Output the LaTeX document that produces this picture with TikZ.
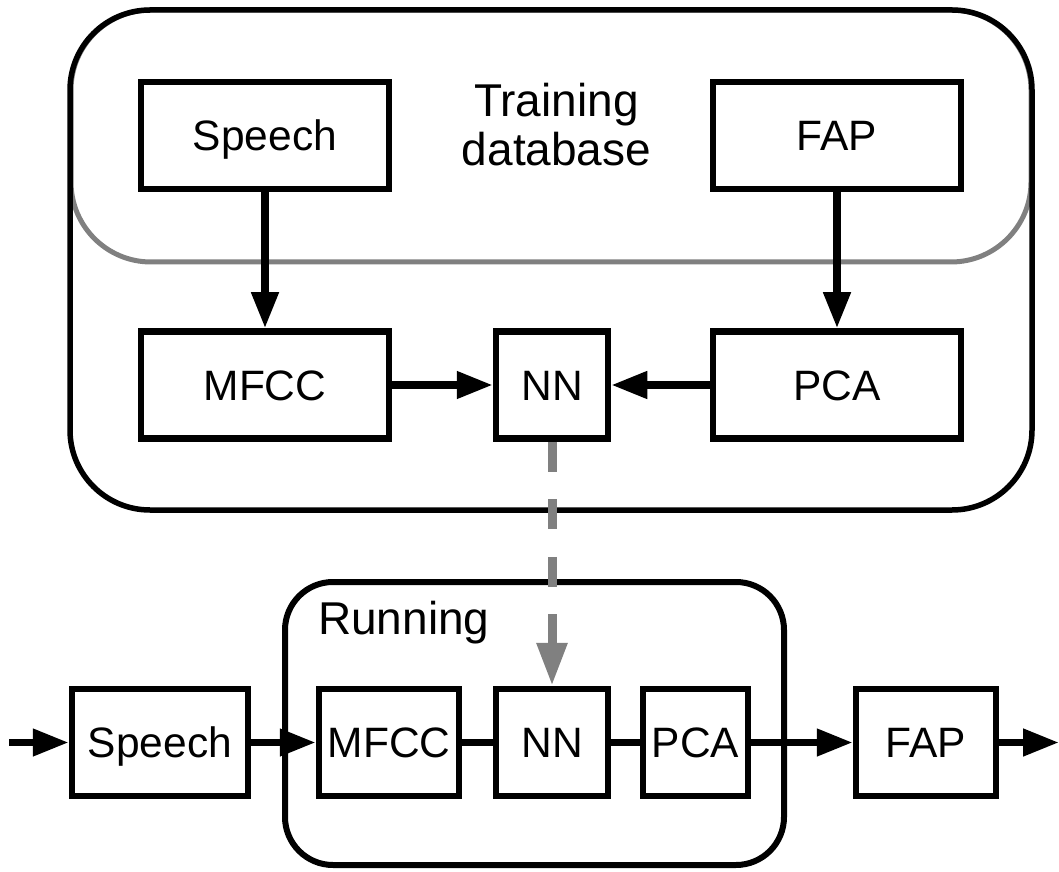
\documentclass[tikz,border=0pt]{standalone}
\usepackage{fontspec}
\setmainfont{Liberation Sans}
\usepackage{tikz}
\usetikzlibrary{arrows.meta}

\begin{document}
\begin{tikzpicture}[x=1pt, y=1pt,
    block/.style={draw, rectangle, line width=6.5pt, minimum height=107pt, inner sep=0pt, text height=30.5pt, text depth=0pt, font=\fontsize{42.5}{48}\selectfont},
    flow/.style={line width=7.5pt, -{Triangle[length=36pt, width=26pt]}},
    link/.style={line width=7.5pt},
    caption/.style={inner sep=0pt, font=\fontsize{46}{49}\selectfont}]
    \useasboundingbox (0,0) rectangle (1059,871);

    % Training database frame
    \draw[gray, line width=5pt, rounded corners=80pt] (71,861) rectangle (1031,609);
    \draw[line width=5.5pt, rounded corners=80pt] (70,861) rectangle (1032,361);
    \node[caption, align=center] (train) at (556.5,746.5) {Training\\database};

    % Training boxes
    \node[block, minimum width=248pt] (speechT) at (265,735.5) {Speech};
    \node[block, minimum width=248pt] (fapT) at (837,735.5) {FAP};
    \node[block, minimum width=248pt] (mfccT) at (265,486) {MFCC};
    \node[block, minimum width=112pt] (nnT) at (552,486) {NN};
    \node[block, minimum width=248pt] (pcaT) at (837,486) {PCA};

    % Running frame
    \draw[line width=6pt, rounded corners=48pt] (285,289) rectangle (784,6);
    \node[caption, anchor=base west] (run) at (318,237) {Running};

    % Running chain
    \coordinate (input) at (9,128.5);
    \coordinate (output) at (1059,128.5);
    \node[block, minimum width=176pt] (speechR) at (160,128.5) {Speech};
    \node[block, minimum width=140pt] (mfccR) at (389,128.5) {MFCC};
    \node[block, minimum width=112pt] (nnR) at (552,128.5) {NN};
    \node[block, minimum width=105pt] (pcaR) at (695.5,128.5) {PCA};
    \node[block, minimum width=140pt] (fapR) at (926,128.5) {FAP};

    % Training arrows
    \draw[flow] (speechT) -- (mfccT);
    \draw[flow] (fapT) -- (pcaT);
    \draw[flow] (mfccT) -- (nnT);
    \draw[flow] (pcaT) -- (nnT);

    % Running arrows
    \draw[flow] (input) -- (speechR);
    \draw[flow] (speechR) -- (mfccR);
    \draw[link] (mfccR) -- (nnR);
    \draw[link] (nnR) -- (pcaR);
    \draw[flow] (pcaR) -- (fapR);
    \draw[flow] (fapR) -- (output);

    % Trained network handed over
    \draw[gray, line width=9pt, dash pattern=on 30pt off 27.5pt, -{Triangle[length=43pt, width=29pt]}] (nnT) -- (nnR);
\end{tikzpicture}
\end{document}
